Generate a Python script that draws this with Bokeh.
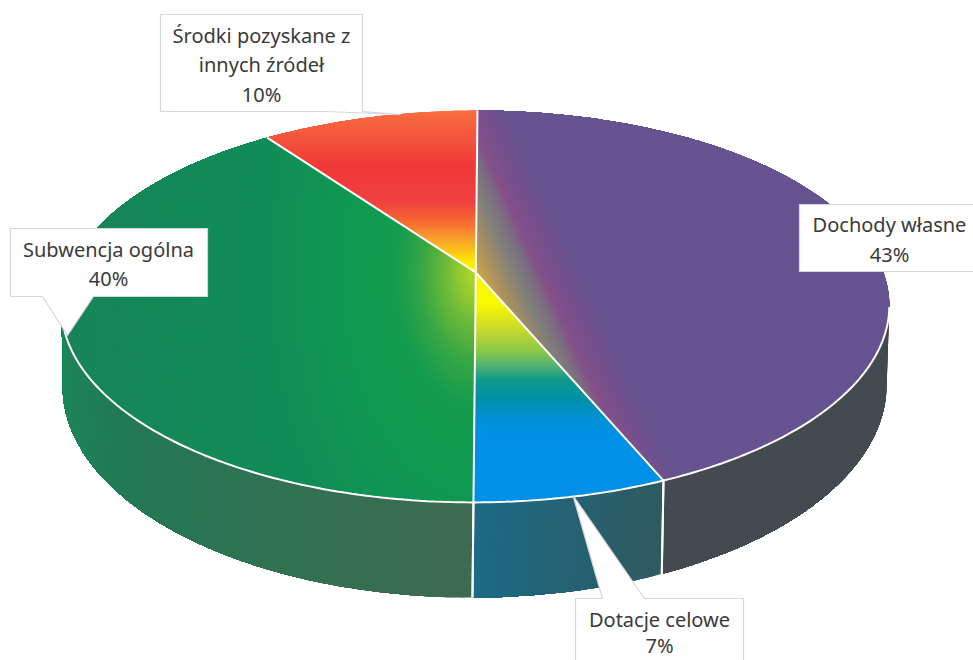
import math
from bokeh.plotting import figure
from bokeh.models import Range1d, ColumnDataSource
from bokeh.core.properties import value
from bokeh.embed import file_html
from bokeh.resources import INLINE

# The printed labels round differently for the two right-hand slices, see label_lines.
categories = ["Dochody własne", "Dotacje celowe", "Subwencja ogólna", "Środki pozyskane z innych źródeł"]
slice_shares = [43.6, 6.4, 40.0, 10.0]
label_lines = [["Dochody własne", "43%"], ["Dotacje celowe", "7%"],
               ["Subwencja ogólna", "40%"], ["Środki pozyskane z", "innych źródeł", "10%"]]

# Colour ramps: (distance from the slice apex in px, colour)
purple_stops = [(0, "#d0a840"), (20, "#a89060"), (40, "#80807a"), (55, "#7c6c80"), (65, "#84508a"),
                (85, "#75508c"), (105, "#665390"), (420, "#665390")]
blue_stops = [(0, "#f8f800"), (33, "#f8f800"), (58, "#c8d830"), (80, "#88c848"), (95, "#50b078"),
              (108, "#109a88"), (128, "#0090a8"), (148, "#0090d8"), (168, "#0090e8"), (235, "#0090e8")]
green_stops = [(0, "#b8d828"), (15, "#98cc30"), (30, "#70bc38"), (55, "#38a645"), (80, "#159c4e"),
               (120, "#0f9a50"), (220, "#118c58"), (420, "#178458")]
red_stops = [(0, "#ffee00"), (9, "#fff000"), (32, "#f8a828"), (49, "#f87030"), (72, "#f04040"),
             (107, "#f03838"), (165, "#f87040")]
side_stops = [[(0, "#454a50"), (1, "#454a50")], [(0, "#2f5a60"), (1, "#1c6a85")],
              [(0, "#3e6a50"), (0.65, "#217a55"), (1, "#1a8a58")], [(0, "#1a8a58"), (1, "#1a8a58")]]

# Projection of the disc
AX, AY, A, B, K, TILT = 475.3, 272.0, 190.0, 407.6, 0.1735, 0.0102
TOP_RX, TOP_CY, TOP_RY = B / math.sqrt(1 - K * K), AY + A * K / (1 - K * K), 196.0
BOT_RX, BOT_CY, BOT_RY = 412.0, 385.0, 212.0


def hex2rgb(h):
    return [int(h[i:i + 2], 16) for i in (1, 3, 5)]


def ramp(stops, t):
    if t <= stops[0][0]:
        return stops[0][1]
    for (a, ca), (b, cb) in zip(stops, stops[1:]):
        if t <= b:
            f = (t - a) / (b - a)
            ra, rb = hex2rgb(ca), hex2rgb(cb)
            return "#%02x%02x%02x" % tuple(round(x + (y - x) * f) for x, y in zip(ra, rb))
    return stops[-1][1]


def raw(theta):
    u, v = math.sin(theta), -math.cos(theta)
    w = 1 - K * v
    return AX + B * u / w, AY + A * v / w


def sheared(x, y):
    return x - TILT * (y - AY), y


def bottom(x, y):
    phi = math.atan2((y - TOP_CY) / TOP_RY, (x - AX) / TOP_RX)
    bx, by = AX + BOT_RX * math.cos(phi), BOT_CY + BOT_RY * math.sin(phi)
    return sheared(bx, by)


def clip(poly, f, T):
    out = []
    for i, p in enumerate(poly):
        q = poly[(i + 1) % len(poly)]
        fp, fq = f(p) - T, f(q) - T
        if fp <= 0:
            out.append(p)
        if fp * fq < 0:
            s = fp / (fp - fq)
            out.append((p[0] + (q[0] - p[0]) * s, p[1] + (q[1] - p[1]) * s))
    return out


xs_side, ys_side, col_side = [], [], []
xs_top, ys_top, col_top = [], [], []
rim_xs, rim_ys, sep_xs, sep_ys = [], [], [], []

start = 0.0
arcs = []
for share in slice_shares:
    n = max(12, int(share * 4))
    a0 = start / 100 * 2 * math.pi
    a1 = (start + share) / 100 * 2 * math.pi
    arcs.append([raw(a0 + (a1 - a0) * i / n) for i in range(n + 1)])
    start += share

apex = (AX, AY)
for i, arc in enumerate(arcs):
    # wall of the pie, front half only; painted nested so no seams show
    front = [p for p in arc if p[1] >= TOP_CY]
    for j in range(len(front) - 1):
        rest = front[j:]
        tops = [sheared(*p) for p in rest]
        bots = [bottom(*p) for p in rest][::-1]
        xs_side.append([q[0] for q in tops + bots])
        ys_side.append([q[1] for q in tops + bots])
        col_side.append(ramp(side_stops[i], j / max(1, len(front) - 2)))
    if front:
        rim_xs.append([sheared(*p)[0] for p in front])
        rim_ys.append([sheared(*p)[1] for p in front])
        for q in (front[0], front[-1]):
            if TOP_CY + 60 < q[1]:
                sp, bp = sheared(*q), bottom(*q)
                sep_xs.append([sp[0], bp[0]])
                sep_ys.append([sp[1], bp[1]])

    poly = [sheared(*q) for q in [apex] + arc]
    if i == 2:  # green: elliptical glow round the apex
        def d_of(q):
            return math.hypot(q[0] - AX, 0.6 * (q[1] - AY))
        xs_top.append([q[0] for q in poly]); ys_top.append([q[1] for q in poly])
        col_top.append(green_stops[-1][1])
        dense = []
        for a, b in zip(poly[1:], poly[2:]):
            for s in range(4):
                dense.append((a[0] + (b[0] - a[0]) * s / 4, a[1] + (b[1] - a[1]) * s / 4))
        dense.append(poly[-1])
        for T in range(400, 0, -2):
            pts = [poly[0]]
            for q in dense:
                s = min(1.0, T / d_of(q))
                pts.append((AX + (q[0] - AX) * s, AY + (q[1] - AY) * s))
            xs_top.append([q[0] for q in pts]); ys_top.append([q[1] for q in pts])
            col_top.append(ramp(green_stops, T))
    else:
        if i == 0:
            f, stops, tmax = (lambda q: (q[0] - AX) - 0.46 * (q[1] - AY)), purple_stops, 420
        elif i == 1:
            f, stops, tmax = (lambda q: q[1] - AY), blue_stops, 236
        else:
            f, stops, tmax = (lambda q: AY - q[1]), red_stops, 166
        T = tmax
        while T > 0:
            c = clip(poly, f, T)
            if len(c) >= 3:
                xs_top.append([q[0] for q in c]); ys_top.append([q[1] for q in c])
                col_top.append(ramp(stops, T))
            T -= 2

edge_xs = [[sheared(*q)[0] for q in [apex, arc[0]]] for arc in arcs]
edge_ys = [[sheared(*q)[1] for q in [apex, arc[0]]] for arc in arcs]

p = figure(width=973, height=660, x_range=Range1d(0, 973), y_range=Range1d(660, 0),
           x_axis_type=None, y_axis_type=None, toolbar_location=None, output_backend="svg",
           min_border=0, outline_line_color=None)
p.grid.visible = False

p.patches(xs_side, ys_side, fill_color=col_side, line_color=None)
p.patches(xs_top, ys_top, fill_color=col_top, line_color=None)
p.multi_line(rim_xs, rim_ys, line_color="white", line_width=2)
p.multi_line(sep_xs, sep_ys, line_color="white", line_width=2)
p.multi_line(edge_xs, edge_ys, line_color="white", line_width=2)

# Label boxes with their callouts
box_x = [[799, 975, 975, 799],
         [575, 602, 572.5, 644, 743, 743, 575],
         [10, 207, 207, 93, 67, 42, 10],
         [160, 362, 362, 400, 325, 160]]
box_y = [[204, 204, 271, 271],
         [598, 598, 495, 598, 598, 665, 665],
         [228, 228, 296, 296, 335, 296, 296],
         [14, 14, 111, 114, 111, 111]]
p.patches(box_x, box_y, fill_color="white", line_color="#d6d6e0", line_width=1.2)

text_x = [889, 659, 108, 261]
text_y = [[224, 254], [619, 645], [249, 278], [35, 64, 94]]
tx, ty, tt = [], [], []
for lines, x0, ys in zip(label_lines, text_x, text_y):
    for line, y0 in zip(lines, ys):
        tx.append(x0); ty.append(y0); tt.append(line)
src = ColumnDataSource(dict(x=tx, y=ty, t=tt))
p.text("x", "y", text="t", source=src, text_align="center", text_baseline="middle",
       text_font=value("Noto Sans"), text_font_size="20px", text_color="#3a3a3a")

open("out.html", "w").write(file_html(p, INLINE))
